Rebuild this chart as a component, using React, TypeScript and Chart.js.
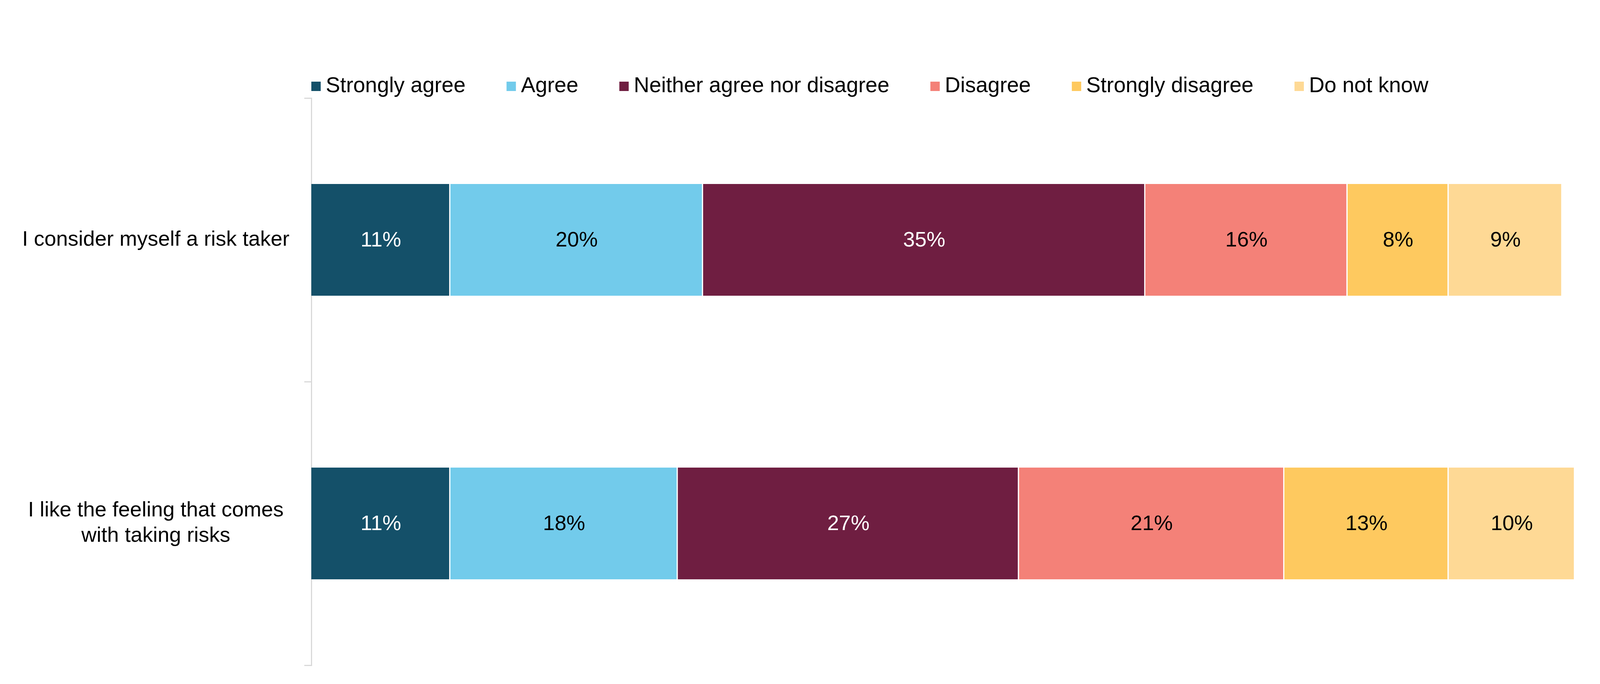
import { useEffect, useRef } from "react";
import { Chart, registerables } from "chart.js";
import type { Plugin } from "chart.js";

Chart.register(...registerables);

const FONT = "'Liberation Sans', Arial, sans-serif";

const questions: (string | string[])[] = [
  "I consider myself a risk taker",
  ["I like the feeling that comes", "with taking risks"],
];

const responses = [
  "Strongly agree",
  "Agree",
  "Neither agree nor disagree",
  "Disagree",
  "Strongly disagree",
  "Do not know",
];

const stronglyAgree = [11, 11];
const agree = [20, 18];
const neither = [35, 27];
const disagree = [16, 21];
const stronglyDisagree = [8, 13];
const doNotKnow = [9, 10];

const colours = ["#145069", "#72cbeb", "#6f1e41", "#f48178", "#fec95f", "#fed995"];
const labelColours = ["#ffffff", "#000000", "#ffffff", "#000000", "#000000", "#000000"];

// legend drawn above the plot, starting at the axis line
const topLegend: Plugin<"bar"> = {
  id: "topLegend",
  afterDraw(chart) {
    const { ctx, chartArea } = chart;
    ctx.save();
    ctx.font = `55px ${FONT}`;
    ctx.textBaseline = "middle";
    ctx.textAlign = "left";
    let x = chartArea.left;
    const y = 213;
    chart.data.datasets.forEach((ds) => {
      const label = ds.label ?? "";
      ctx.fillStyle = ds.backgroundColor as string;
      ctx.fillRect(x, y - 12, 24, 24);
      ctx.fillStyle = "#000000";
      ctx.fillText(label, x + 37, y);
      x += 37 + ctx.measureText(label).width + 105;
    });
    ctx.restore();
  },
};

// percentage labels in the middle of each segment
const segmentLabels: Plugin<"bar"> = {
  id: "segmentLabels",
  afterDatasetsDraw(chart) {
    const { ctx } = chart;
    ctx.save();
    ctx.font = `54px ${FONT}`;
    ctx.textAlign = "center";
    ctx.textBaseline = "middle";
    chart.data.datasets.forEach((ds, i) => {
      const meta = chart.getDatasetMeta(i);
      meta.data.forEach((bar, j) => {
        const { x, y, base } = bar.getProps(["x", "y", "base"], true) as any;
        ctx.fillStyle = labelColours[i];
        ctx.fillText(`${ds.data[j]}%`, (x + base) / 2, y + 2);
      });
    });
    ctx.restore();
  },
};

export default function App() {
  const chartRef = useRef<HTMLCanvasElement>(null);
  const chartInstance = useRef<Chart | null>(null);

  useEffect(() => {
    if (!chartRef.current) return;
    if (chartInstance.current) chartInstance.current.destroy();

    const series = [stronglyAgree, agree, neither, disagree, stronglyDisagree, doNotKnow];

    chartInstance.current = new Chart(chartRef.current, {
      type: "bar",
      data: {
        labels: questions,
        datasets: series.map((values, i) => ({
          label: responses[i],
          data: values,
          backgroundColor: colours[i],
          borderColor: "#ffffff",
          borderWidth: { top: 0, bottom: 0, left: 0, right: 3 },
          borderSkipped: false,
          barPercentage: 0.394,
          categoryPercentage: 1,
        })),
      },
      options: {
        indexAxis: "y",
        animation: false,
        responsive: true,
        maintainAspectRatio: false,
        layout: { padding: { top: 243, right: 112, bottom: 40, left: 0 } },
        plugins: {
          legend: { display: false },
          tooltip: { enabled: false },
        },
        scales: {
          x: { stacked: true, min: 0, max: 100, display: false },
          y: {
            stacked: true,
            position: "left",
            offset: true,
            grid: {
              drawOnChartArea: false,
              drawTicks: true,
              tickLength: 18,
              color: "#d9d9d9",
              lineWidth: 3,
              offset: true,
            },
            border: { display: true, color: "#d9d9d9", width: 3 },
            ticks: {
              color: "#000000",
              font: { family: FONT, size: 54, lineHeight: 1.2 },
              padding: 38,
              crossAlign: "center",
            },
            afterFit(scale) {
              scale.width = 789;
              scale.paddingTop = 0;
              scale.paddingBottom = 0;
            },
          },
        },
      },
      plugins: [topLegend, segmentLabels],
    });

    return () => {
      if (chartInstance.current) {
        chartInstance.current.destroy();
        chartInstance.current = null;
      }
    };
  }, []);

  return (
    <div style={{ position: "relative", width: 4136, height: 1735 }}>
      <canvas ref={chartRef} />
    </div>
  );
}
